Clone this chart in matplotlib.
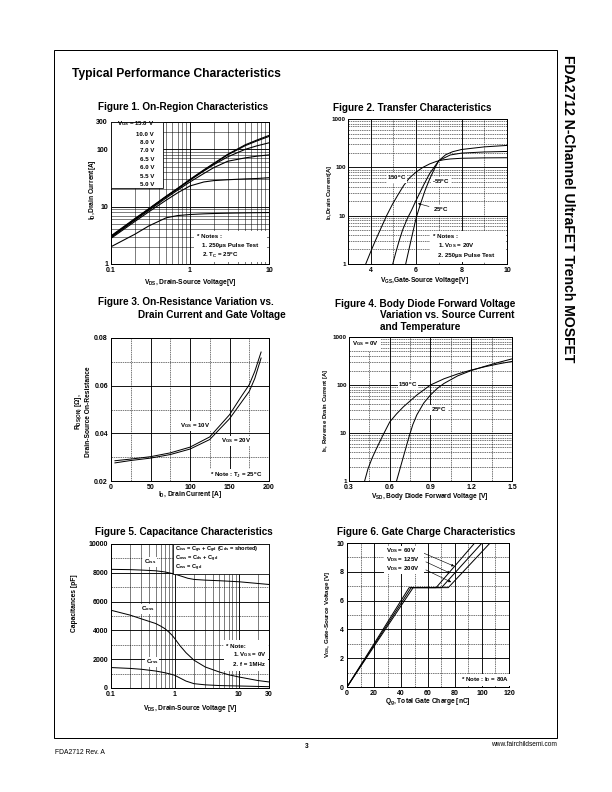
import numpy as np
import matplotlib.pyplot as plt
from matplotlib.patches import Rectangle
from matplotlib.ticker import FixedLocator, NullFormatter

plt.rcParams['font.family'] = ['Liberation Sans', 'DejaVu Sans']
plt.rcParams['font.weight'] = 'bold'
plt.rcParams['mathtext.fontset'] = 'custom'
plt.rcParams['mathtext.rm'] = 'Liberation Sans:bold'
plt.rcParams['mathtext.it'] = 'Liberation Sans:bold:italic'
plt.rcParams['mathtext.bf'] = 'Liberation Sans:bold'
plt.rcParams['mathtext.default'] = 'rm'

# Figure 1 - on-region
f1_vds = [0.1, 0.2, 0.3, 0.5, 0.7, 1, 1.5, 2, 3, 5, 7, 10]
f1_curves = {
    "15.0": [3.1, 6.2, 9.2, 15.3, 21, 30, 44, 57, 82, 120, 145, 175],
    "10.0": [3.0, 6.0, 9.0, 15.0, 20.7, 29.5, 43, 56, 80, 116, 140, 168],
    "8.0": [3.0, 6.0, 9.0, 15.0, 20.5, 29, 42, 54, 74, 100, 115, 130],
    "7.0": [2.9, 5.8, 8.6, 14.2, 19.5, 27, 38, 48, 62, 71, 76, 80],
    "6.5": [2.8, 5.5, 8.1, 13, 17.5, 23, 27, 28.5, 29.5, 30.5, 31, 32],
    "6.0": [2.0, 3.3, 4.6, 6.4, 7.0, 7.3, 7.5, 7.6, 7.7, 7.8, 7.85, 7.9],
}
f1_legend = ["15.0 V", "10.0 V", "8.0 V", "7.0 V", "6.5 V", "6.0 V", "5.5 V", "5.0 V"]

# Figure 2 - transfer
f2_vgs_150 = [3.78, 4.0, 4.2, 4.45, 4.7, 4.95, 5.2, 5.45, 5.7, 6.0, 6.3, 6.6, 6.9, 7.2, 7.5, 8, 9, 10]
f2_id_150 = [1, 1.8, 3, 5.5, 10, 17, 27, 42, 60, 80, 100, 118, 133, 143, 149, 154, 157, 158]
f2_vgs_25 = [4.97, 5.1, 5.25, 5.4, 5.6, 5.8, 5.96, 6.15, 6.35, 6.6, 7.0, 7.5, 8, 9, 10]
f2_id_25 = [1, 1.7, 3, 5, 8.5, 13, 19, 29, 45, 75, 138, 180, 197, 208, 213]
f2_vgs_m55 = [5.54, 5.65, 5.8, 6.0, 6.2, 6.4, 6.6, 6.8, 7.0, 7.3, 7.6, 8, 9, 10]
f2_id_m55 = [1, 1.7, 3.5, 9, 18, 34, 58, 92, 138, 182, 210, 234, 265, 284]

# Figure 3 - on-resistance
f3_id = [5, 25, 50, 75, 100, 125, 150, 165, 175, 182, 190]
f3_r10 = [0.0285, 0.0292, 0.0302, 0.0318, 0.0342, 0.0385, 0.0478, 0.0555, 0.0604, 0.0660, 0.0741]
f3_r20 = [0.0276, 0.0286, 0.0296, 0.0311, 0.0334, 0.0374, 0.0461, 0.0530, 0.0576, 0.0630, 0.0716]

# Figure 4 - body diode
f4_vsd_150 = [0.415, 0.44, 0.47, 0.5, 0.55, 0.6, 0.65, 0.7, 0.8, 0.9, 1.0, 1.1, 1.2, 1.3, 1.4, 1.5]
f4_is_150 = [1, 1.8, 3, 4.6, 9, 17, 25, 35, 62, 100, 135, 170, 205, 240, 275, 310]
f4_vsd_25 = [0.65, 0.68, 0.71, 0.74, 0.77, 0.8, 0.85, 0.9, 0.95, 1.0, 1.1, 1.2, 1.3, 1.4, 1.5]
f4_is_25 = [1, 2, 4, 8, 15, 24, 42, 62, 85, 108, 155, 200, 245, 295, 350]

# Figure 5 - capacitance
f5_vds_ciss = [0.1, 0.2, 0.3, 0.5, 0.7, 1, 1.3, 1.6, 2, 3, 5, 10, 20, 30]
f5_ciss = [8240, 8220, 8190, 8140, 8060, 7910, 7750, 7620, 7540, 7490, 7450, 7380, 7260, 7190]
f5_vds_coss = [0.1, 0.15, 0.2, 0.3, 0.4, 0.5, 0.6, 0.7, 0.8, 0.9, 1, 1.2, 1.5, 2, 3, 5, 7, 10, 20, 30]
f5_coss = [5400, 5200, 5060, 4800, 4620, 4480, 4300, 4120, 3900, 3680, 3430, 2950, 2450, 1930,
           1460, 1110, 920, 770, 520, 420]
f5_vds_crss = [0.1, 0.2, 0.3, 0.5, 0.7, 0.9, 1, 1.2, 1.5, 2, 3, 5, 10, 20, 30]
f5_crss = [1420, 1360, 1300, 1180, 1060, 940, 880, 700, 480, 300, 220, 170, 140, 110, 90]

# Figure 6 - gate charge
f6_qg = {"60": [0, 46, 66, 94.6], "125": [0, 47.5, 70, 100], "200": [0, 49, 75, 106]}
f6_vgs = [0, 6.9, 6.9, 10]

W, H = 612, 792
fig = plt.figure(figsize=(W / 72, H / 72), dpi=72)

TF = 10      # figure titles
LF = 6.6     # axis labels
NF = 6.1     # notes
KF = 7       # tick labels


def px_axes(l, t, r, b):
    return fig.add_axes([l / W, 1 - b / H, (r - l) / W, (b - t) / H])


def ftext(x, y, s, **kw):
    kw.setdefault('fontsize', LF)
    kw.setdefault('va', 'center')
    return fig.text(x / W, 1 - y / H, s, **kw)


def white_box(l, t, r, b, edge='none'):
    fig.patches.append(Rectangle((l / W, 1 - b / H), (r - l) / W, (b - t) / H,
                                 transform=fig.transFigure, fc='white', ec=edge,
                                 lw=0.8, zorder=2))


def style(ax, xmaj, xmin, ymaj, ymin, xlab, ylab, minor_ls='-'):
    ax.xaxis.set_major_locator(FixedLocator(xmaj))
    ax.xaxis.set_minor_locator(FixedLocator(xmin))
    ax.yaxis.set_major_locator(FixedLocator(ymaj))
    ax.yaxis.set_minor_locator(FixedLocator(ymin))
    ax.set_xticklabels(xlab)
    ax.set_yticklabels(ylab)
    ax.xaxis.set_minor_formatter(NullFormatter())
    ax.yaxis.set_minor_formatter(NullFormatter())
    ax.tick_params(which='both', length=0, labelsize=KF, pad=3)
    ax.grid(which='major', color='k', lw=0.9)
    ax.grid(which='minor', color='k', lw=0.5, ls=minor_ls)
    for s in ax.spines.values():
        s.set_linewidth(1.0)


bb = dict(fc='white', ec='none', pad=0.6)
arrow_kw = dict(arrowstyle='-|>', color='k', lw=0.6, mutation_scale=5)

# page frame and headings
fig.patches.append(Rectangle((54 / W, 1 - 738 / H), (557 - 54) / W, (738 - 50) / H,
                             transform=fig.transFigure, fill=False, ec='k', lw=1))
ftext(72, 74, "Typical Performance Characteristics", fontsize=12)
ftext(568, 55, "FDA2712 N-Channel UltraFET Trench MOSFET", fontsize=14,
      rotation=-90, va='top', ha='center')
ftext(55, 753, "FDA2712 Rev. A", fontsize=6.8, fontweight='normal')
ftext(307, 746, "3", fontsize=6.5, ha='center')
ftext(557, 744, "www.fairchildsemi.com", fontsize=6.5, ha='right', fontweight='normal')

# ---- Figure 1
ax1 = px_axes(111, 122, 269, 264)
ax1.set_xscale('log')
ax1.set_yscale('log')
ax1.set_xlim(0.1, 10)
ax1.set_ylim(1, 300)
dec_minor = [m * d for d in [0.1, 1] for m in range(2, 10)]
style(ax1, [0.1, 1, 10], dec_minor, [1, 10, 100, 300],
      [m * d for d in [1, 10] for m in range(2, 10)] + [200],
      ["0.1", "1", "10"], ["1", "10", "100", "300"])
for k, v in f1_curves.items():
    ax1.plot(f1_vds, v, color='k', lw=1.1, zorder=3)
ftext(183, 107, "Figure 1. On-Region Characteristics", fontsize=TF, ha='center')
ftext(190, 282, r"V$_{DS}$, Drain-Source Voltage[V]", ha='center')
ftext(92, 190, r"I$_D$,Drain Current[A]", rotation=90, ha='center')
white_box(111, 122, 163, 188, edge='k')
ftext(117, 124, r"V$_{GS}$ = " + f1_legend[0], fontsize=NF, zorder=4)
for i, s in enumerate(f1_legend[1:]):
    ftext(154, 134 + i * 8.4, s, fontsize=NF, ha='right', zorder=4)
white_box(194, 231, 267, 262)
ftext(197, 237, "* Notes :", fontsize=NF, zorder=4)
ftext(202, 246, "1. 250μs Pulse Test", fontsize=NF, zorder=4)
ftext(202, 255, r"2. T$_C$ = 25$^o$C", fontsize=NF, zorder=4)

# ---- Figure 2
ax2 = px_axes(348, 119, 507, 264)
ax2.set_yscale('log')
ax2.set_xlim(3, 10)
ax2.set_ylim(1, 1000)
style(ax2, [4, 6, 8, 10], [3, 5, 7, 9], [1, 10, 100, 1000],
      [m * d for d in [1, 10, 100] for m in range(2, 10)],
      ["4", "6", "8", "10"], ["1", "10", "100", "1000"], minor_ls=(0, (3, 1.5)))
ax2.tick_params(axis='y', labelsize=6.3, pad=2)
ax2.plot(f2_vgs_150, f2_id_150, color='k', lw=1.0, zorder=3)
ax2.plot(f2_vgs_25, f2_id_25, color='k', lw=1.0, zorder=3)
ax2.plot(f2_vgs_m55, f2_id_m55, color='k', lw=1.0, zorder=3)
ftext(412, 108, "Figure 2. Transfer Characteristics", fontsize=TF, ha='center')
ftext(424, 281, r"V$_{GS}$,Gate-Source Voltage[V]", ha='center')
ftext(330, 192, r"I$_D$,Drain Current[A]", rotation=90, ha='center', fontsize=6)
ftext(397, 178, r"150$^o$C", fontsize=NF, ha='center', bbox=bb)
ftext(441, 182, r"-55$^o$C", fontsize=NF, ha='center', bbox=bb)
ftext(441, 210, r"25$^o$C", fontsize=NF, ha='center', bbox=bb)
ax2.annotate("", xy=(416, H - 203), xytext=(431, H - 207), xycoords='figure pixels',
             textcoords='figure pixels', arrowprops=arrow_kw)
white_box(430, 231, 506, 262)
ftext(433, 237, "* Notes :", fontsize=NF, zorder=4)
ftext(438, 246, r"1. V$_{DS}$ = 20V", fontsize=NF, zorder=4)
ftext(438, 255, "2. 250μs Pulse Test", fontsize=NF, zorder=4)

# ---- Figure 3
ax3 = px_axes(111, 338, 269, 481)
ax3.set_xlim(0, 200)
ax3.set_ylim(0.02, 0.08)
style(ax3, [0, 50, 100, 150, 200], [25, 75, 125, 175], [0.02, 0.04, 0.06, 0.08],
      [0.03, 0.05, 0.07], ["0", "50", "100", "150", "200"],
      ["0.02", "0.04", "0.06", "0.08"], minor_ls=(0, (3, 1.5)))
ax3.plot(f3_id, f3_r10, color='k', lw=1.0, zorder=3)
ax3.plot(f3_id, f3_r20, color='k', lw=1.0, zorder=3)
ftext(98, 302, "Figure 3. On-Resistance Variation vs.", fontsize=TF)
ftext(138, 315, "Drain Current and Gate Voltage", fontsize=TF)
ftext(190, 495, r"I$_D$, Drain Current [A]", ha='center')
ftext(79, 412, r"R$_{DS(ON)}$ [Ω],", rotation=90, ha='center')
ftext(88, 412, "Drain-Source On-Resistance", rotation=90, ha='center')
ftext(195, 426, r"V$_{GS}$ = 10V", fontsize=NF, ha='center', bbox=bb)
ftext(236, 441, r"V$_{GS}$ = 20V", fontsize=NF, ha='center', bbox=bb)
ftext(236, 475, r"* Note : T$_J$ = 25$^o$C", fontsize=NF, ha='center',
      bbox=dict(fc='white', ec='none', pad=1.5))

# ---- Figure 4
ax4 = px_axes(349, 337, 512, 481)
ax4.set_yscale('log')
ax4.set_xlim(0.3, 1.5)
ax4.set_ylim(1, 1000)
style(ax4, [0.3, 0.6, 0.9, 1.2, 1.5], [0.45, 0.75, 1.05, 1.35], [1, 10, 100, 1000],
      [m * d for d in [1, 10, 100] for m in range(2, 10)],
      ["0.3", "0.6", "0.9", "1.2", "1.5"], ["1", "10", "100", "1000"],
      minor_ls=(0, (3, 1.5)))
ax4.tick_params(axis='y', labelsize=6.3, pad=2)
ax4.plot(f4_vsd_150, f4_is_150, color='k', lw=1.0, zorder=3)
ax4.plot(f4_vsd_25, f4_is_25, color='k', lw=1.0, zorder=3)
ftext(335, 304, "Figure 4. Body Diode Forward Voltage", fontsize=TF)
ftext(380, 315, "Variation vs. Source Current", fontsize=TF)
ftext(380, 327, "and Temperature", fontsize=TF)
ftext(430, 497, r"V$_{SD}$, Body Diode Forward Voltage [V]", ha='center')
ftext(326, 410, r"I$_S$, Reverse Drain Current [A]", rotation=90, ha='center', fontsize=6)
white_box(350, 338, 381, 351)
ftext(352, 344, r"V$_{GS}$ = 0V", fontsize=NF, zorder=4)
ftext(408, 385, r"150$^o$C", fontsize=NF, ha='center', bbox=bb)
ftext(439, 410, r"25$^o$C", fontsize=NF, ha='center', bbox=bb)

# ---- Figure 5
ax5 = px_axes(111, 544, 269, 688)
ax5.set_xscale('log')
ax5.set_xlim(0.1, 30)
ax5.set_ylim(0, 10000)
style(ax5, [0.1, 1, 10, 30], dec_minor + [20, 30],
      [0, 2000, 4000, 6000, 8000, 10000], [1000, 3000, 5000, 7000, 9000],
      ["0.1", "1", "10", "30"], ["0", "2000", "4000", "6000", "8000", "10000"])
ax5.yaxis.grid(which='minor', color='k', lw=0.5, ls=(0, (3, 1.5)))
ax5.plot(f5_vds_ciss, f5_ciss, color='k', lw=1.0, zorder=3)
ax5.plot(f5_vds_coss, f5_coss, color='k', lw=1.0, zorder=3)
ax5.plot(f5_vds_crss, f5_crss, color='k', lw=1.0, zorder=3)
ftext(184, 532, "Figure 5. Capacitance Characteristics", fontsize=TF, ha='center')
ftext(190, 709, r"V$_{DS}$, Drain-Source Voltage [V]", ha='center')
ftext(74, 603, "Capacitances [pF]", rotation=90, ha='center')
white_box(173, 544, 269, 574, edge='k')
ftext(175, 549.5, r"C$_{iss}$ = C$_{gs}$ + C$_{gd}$ (C$_{ds}$ = shorted)", fontsize=5.6, zorder=4)
ftext(175, 559, r"C$_{oss}$ = C$_{ds}$ + C$_{gd}$", fontsize=5.6, zorder=4)
ftext(175, 568, r"C$_{rss}$ = C$_{gd}$", fontsize=5.6, zorder=4)
ftext(150, 562, r"C$_{iss}$", fontsize=NF, ha='center', bbox=bb)
ftext(148, 609, r"C$_{oss}$", fontsize=NF, ha='center', bbox=bb)
ftext(152, 662, r"C$_{rss}$", fontsize=NF, ha='center', bbox=bb)
white_box(224, 640, 268, 671)
ftext(226, 646, "* Note:", fontsize=NF, zorder=4)
ftext(233, 655, r"1. V$_{GS}$ = 0V", fontsize=NF, zorder=4)
ftext(233, 664, "2. f = 1MHz", fontsize=NF, zorder=4)

# ---- Figure 6
ax6 = px_axes(347, 543, 509, 687)
ax6.set_xlim(0, 120)
ax6.set_ylim(0, 10)
style(ax6, [0, 20, 40, 60, 80, 100, 120], [10, 30, 50, 70, 90, 110],
      [0, 2, 4, 6, 8, 10], [1, 3, 5, 7, 9],
      ["0", "20", "40", "60", "80", "100", "120"], ["0", "2", "4", "6", "8", "10"],
      minor_ls=(0, (3, 1.5)))
for k, q in f6_qg.items():
    ax6.plot(q, f6_vgs, color='k', lw=1.0, zorder=3)
ftext(426, 532, "Figure 6. Gate Charge Characteristics", fontsize=TF, ha='center')
ftext(428, 702, r"Q$_g$, Total Gate Charge [nC]", ha='center')
ftext(328, 614, r"V$_{GS}$, Gate-Source Voltage [V]", rotation=90, ha='center', fontsize=6.3)
white_box(384, 546, 424, 574)
for i, v in enumerate(["60", "125", "200"]):
    ftext(386, 551 + i * 9, r"V$_{DS}$ = " + v + "V", fontsize=NF, zorder=4)
arrows6 = [((421, 552), (456, 567)), ((424, 561), (452, 574)), ((424, 569), (453, 583))]
for (x0, y0), (x1, y1) in arrows6:
    ax6.annotate("", xy=(x1, H - y1), xytext=(x0, H - y0), xycoords='figure pixels',
                 textcoords='figure pixels', arrowprops=arrow_kw)
ftext(485, 680, r"* Note : I$_D$ = 80A", fontsize=NF, ha='center',
      bbox=dict(fc='white', ec='none', pad=1.5))

fig.savefig("out.png", dpi=72)
